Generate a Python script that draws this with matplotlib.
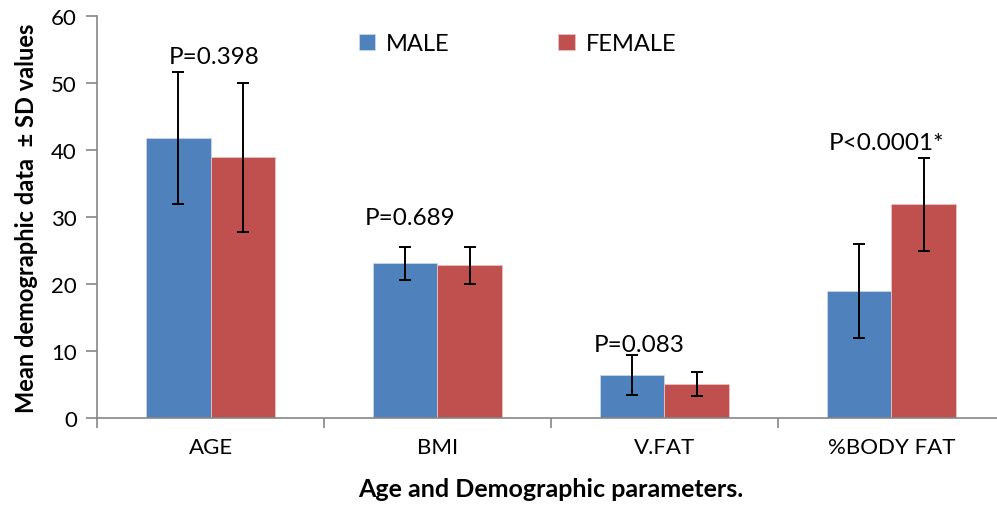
"""
Demographic parameters by sex — grouped bar chart with SD error bars.
"""

import numpy as np
import matplotlib.pyplot as plt

# ── Data ───────────────────────────────────────────────────────────────────────
categories = ['AGE', 'BMI', 'V.FAT', '%BODY FAT']
male_mean = [41.8, 23.1, 6.4, 19.0]
male_sd = [9.8, 2.5, 3.0, 7.0]
female_mean = [38.9, 22.8, 5.1, 31.9]
female_sd = [11.1, 2.8, 1.8, 6.9]
p_labels = ['P=0.398', 'P=0.689', 'P=0.083', 'P<0.0001*']
p_pos = [(0.015, 54.0), (0.88, 29.9), (1.89, 11.0), (2.98, 41.2)]

MALE_COL = '#4F81BD'
FEMALE_COL = '#C0504D'
AXIS_COL = '#868686'

plt.rcParams['font.family'] = ['Lato', 'DejaVu Sans']

fig = plt.figure(figsize=(9.97, 5.10), dpi=100)
ax = fig.add_axes([0.0973, 0.1784, 0.9107, 0.788])

x = np.arange(len(categories))
w = 0.283

ax.bar(x - w / 2, male_mean, w, color=MALE_COL, edgecolor='#c9d6ea',
       linewidth=0.6, label='MALE', zorder=2)
ax.bar(x + w / 2, female_mean, w, color=FEMALE_COL, edgecolor='#e9c3c2',
       linewidth=0.6, label='FEMALE', zorder=2)
ax.errorbar(x - w / 2, male_mean, yerr=male_sd, fmt='none', ecolor='black',
            elinewidth=1.4, capsize=4.5, capthick=1.4, zorder=3)
ax.errorbar(x + w / 2, female_mean, yerr=female_sd, fmt='none', ecolor='black',
            elinewidth=1.4, capsize=4.5, capthick=1.4, zorder=3)

for txt, (px, py) in zip(p_labels, p_pos):
    ax.text(px, py, txt, ha='center', va='center', fontsize=17.5, zorder=4)

# ── Axes styling ───────────────────────────────────────────────────────────────
ax.set_xlim(-0.5, len(categories) - 0.5)
ax.set_ylim(0, 60)
ax.set_yticks(range(0, 61, 10))
ax.set_xticks(x)
ax.set_xticklabels(categories)
ax.set_xticks(np.arange(-0.5, len(categories), 1.0), minor=True)
ax.tick_params(axis='x', which='major', length=0, pad=14, labelsize=16)
ax.tick_params(axis='x', which='minor', length=7, width=1.2, color=AXIS_COL)
ax.tick_params(axis='y', length=8, width=1.2, color=AXIS_COL, labelsize=16, pad=6.5)

for side in ['top', 'right']:
    ax.spines[side].set_visible(False)
for side in ['left', 'bottom']:
    ax.spines[side].set_color(AXIS_COL)
    ax.spines[side].set_linewidth(1.2)

ax.set_ylabel('Mean demographic data  \u00b1 SD values', fontsize=17,
              fontweight='bold', labelpad=9)
ax.set_xlabel('Age and Demographic parameters.', fontsize=18,
              fontweight='bold', labelpad=14)

ax.legend(loc='upper left', bbox_to_anchor=(0.265, 1.01), ncol=2, frameon=False,
          fontsize=17, handlelength=0.7, handleheight=0.7, handletextpad=0.45,
          columnspacing=4.6)

plt.savefig('out.png', dpi=100)
